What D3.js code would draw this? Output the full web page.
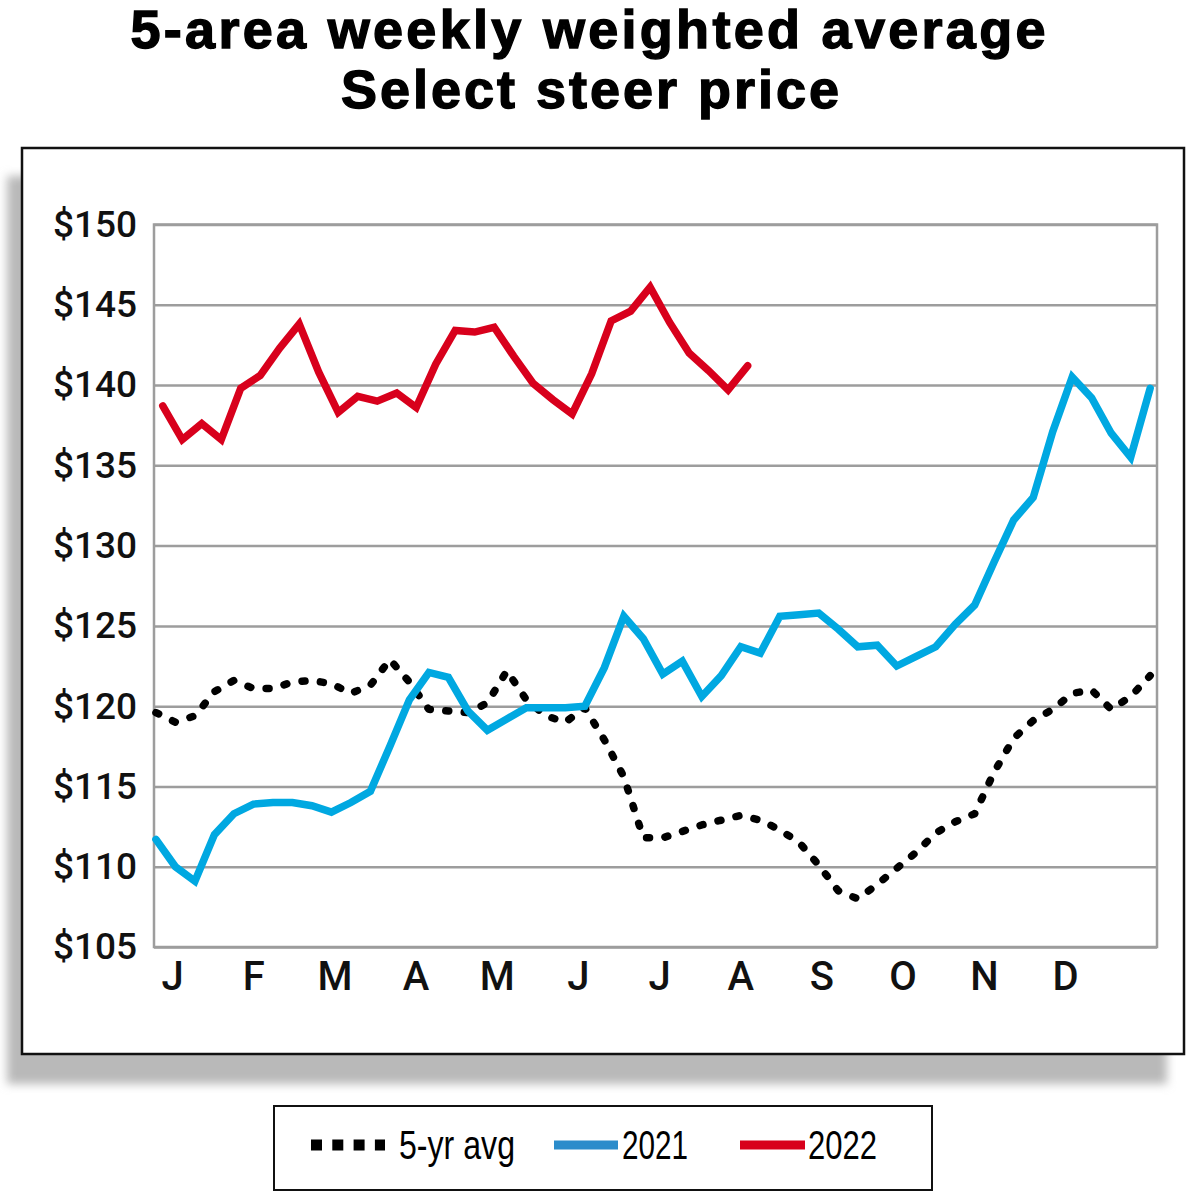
<!DOCTYPE html>
<html>
<head>
<meta charset="utf-8">
<script src="https://cdn.jsdelivr.net/npm/d3@7"></script>
<style>
  body { margin: 0; background: #fff; }
  .title { font-family: "Liberation Sans Narrow", "Arial Narrow", sans-serif; font-weight: bold; font-size: 54px; fill: #000; stroke: #000; stroke-width: 1.4px; }
  .axis text { font-family: Roboto, sans-serif; font-weight: 500; fill: #111; }
  .y-axis text { font-size: 37px; }
  .x-axis text { font-size: 40px; }
  .legend-label { font-family: "Liberation Sans Narrow", "Arial Narrow", sans-serif; font-size: 40px; fill: #000; }
</style>
</head>
<body>
<div id="chart"></div>
<script>
// Month labels along the bottom
const months = ["J", "F", "M", "A", "M", "J", "J", "A", "S", "O", "N", "D"];
// Price ticks ($/cwt)
const yTicks = [105, 110, 115, 120, 125, 130, 135, 140, 145, 150];

// Weekly values
const avg5yr = [119.6, 119.0, 119.4, 120.9, 121.6, 121.1, 121.1, 121.5, 121.6, 121.4,
                120.8, 121.3, 122.9, 121.5, 119.8, 119.7, 119.6, 120.2, 122.2, 120.4,
                119.4, 119.0, 119.9, 117.9, 115.6, 111.8, 111.8, 112.2, 112.6, 112.9,
                113.2, 112.9, 112.3, 111.5, 110.1, 108.5, 108.0, 108.9, 109.9, 110.9,
                112.1, 112.8, 113.3, 115.9, 118.0, 119.1, 119.8, 120.8, 121.0, 119.8,
                120.6, 121.9];
const price2021 = [111.7, 110.0, 109.1, 112.0, 113.3, 113.9, 114.0, 114.0, 113.8, 113.4,
                   114.0, 114.7, 117.5, 120.4, 122.1, 121.8, 119.7, 118.5, 119.2, 119.9,
                   119.9, 119.9, 120.0, 122.4, 125.6, 124.2, 122.0, 122.8, 120.6, 121.9,
                   123.7, 123.3, 125.6, 125.7, 125.8, 124.8, 123.7, 123.8, 122.5, 123.1,
                   123.7, 125.1, 126.3, 129.0, 131.6, 133.0, 137.1, 140.5, 139.2, 137.0,
                   135.5, 139.8];
const price2022 = [138.7, 136.6, 137.6, 136.6, 139.8, 140.6, 142.3, 143.8, 140.8, 138.3,
                   139.3, 139.0, 139.5, 138.6, 141.3, 143.4, 143.3, 143.6, 141.8, 140.1,
                   139.1, 138.2, 140.7, 144.0, 144.6, 146.1, 143.9, 142.0, 140.9, 139.7,
                   141.2];
// first week of each series, in weeks from the start of the axis
const seriesStart = [0, 0, 0.35];

const legendItems = ["5-yr avg", "2021", "2022"];

class SteerChart {
    constructor(_config) {
        this.config = {
            parentElement: _config.parentElement,
            containerWidth: 1200,
            containerHeight: 1197,
            plot: { left: 154, top: 224.5, right: 1157, bottom: 947 },
            gridColor: "#9d9d9d",
            colors: ["#000000", "#00a8e1", "#d8001c"],
            legendBlue: "#2b8ccb"
        };
        this.initVis();
    }

    initVis() {
        let vis = this;
        const p = vis.config.plot;
        vis.width = p.right - p.left;
        vis.height = p.bottom - p.top;

        vis.svg = d3.select(vis.config.parentElement).append("svg")
            .attr("width", vis.config.containerWidth)
            .attr("height", vis.config.containerHeight);

        // blurred shadow behind the frame
        const defs = vis.svg.append("defs");
        defs.append("filter").attr("id", "blur")
            .attr("x", "-5%").attr("y", "-5%").attr("width", "110%").attr("height", "110%")
            .append("feGaussianBlur").attr("stdDeviation", 5);

        vis.svg.append("rect")
            .attr("x", 7).attr("y", 176)
            .attr("width", 1160).attr("height", 908)
            .attr("fill", "#b9b9b9")
            .attr("filter", "url(#blur)");

        vis.svg.append("rect")
            .attr("x", 22).attr("y", 148)
            .attr("width", 1162).attr("height", 906)
            .attr("fill", "#fff")
            .attr("stroke", "#111")
            .attr("stroke-width", 2.5);

        // Title
        const title = vis.svg.append("g");
        title.append("text").attr("class", "title")
            .attr("x", 588).attr("y", 48)
            .attr("text-anchor", "middle")
            .attr("textLength", 915).attr("lengthAdjust", "spacing")
            .text("5-area weekly weighted average");
        title.append("text").attr("class", "title")
            .attr("x", 590).attr("y", 108)
            .attr("text-anchor", "middle")
            .attr("textLength", 498).attr("lengthAdjust", "spacing")
            .text("Select steer price");

        vis.chart = vis.svg.append("g")
            .attr("transform", `translate(${p.left},${p.top})`);

        vis.xScale = d3.scaleLinear().domain([-0.1, 51.35]).range([0, vis.width]);
        vis.yScale = d3.scaleLinear().domain([105, 150]).range([vis.height, 0]);
        vis.monthScale = d3.scalePoint().domain(d3.range(months.length)).range([18, vis.width - 92]);

        vis.yAxis = d3.axisLeft(vis.yScale)
            .tickValues(yTicks)
            .tickSize(-vis.width)
            .tickPadding(17)
            .tickFormat(d => `$${d}`);

        vis.xAxis = d3.axisBottom(vis.monthScale)
            .tickSize(0)
            .tickPadding(15)
            .tickFormat(i => months[i]);

        vis.renderVis();
    }

    renderVis() {
        let vis = this;

        const yAxisG = vis.chart.append("g").attr("class", "axis y-axis").call(vis.yAxis);
        yAxisG.select(".domain").remove();
        yAxisG.selectAll("line")
            .attr("stroke", vis.config.gridColor)
            .attr("stroke-width", 2.5);

        // plot border
        vis.chart.append("rect")
            .attr("width", vis.width).attr("height", vis.height)
            .attr("fill", "none")
            .attr("stroke", vis.config.gridColor)
            .attr("stroke-width", 2.5);

        const xAxisG = vis.chart.append("g").attr("class", "axis x-axis")
            .attr("transform", `translate(0,${vis.height})`)
            .call(vis.xAxis);
        xAxisG.select(".domain").remove();

        const series = [avg5yr, price2021, price2022];
        const line = (start) => d3.line()
            .x((d, i) => vis.xScale(start + i))
            .y(d => vis.yScale(d));

        vis.chart.selectAll(".series")
            .data(series)
            .join("path")
                .attr("class", "series")
                .attr("d", (d, i) => line(seriesStart[i])(d))
                .attr("fill", "none")
                .attr("stroke", (d, i) => vis.config.colors[i])
                .attr("stroke-width", (d, i) => i === 0 ? 7.5 : 7.5)
                .attr("stroke-linecap", "round")
                .attr("stroke-linejoin", (d, i) => i === 0 ? "round" : "miter")
                .attr("stroke-miterlimit", 3)
                .attr("stroke-dasharray", (d, i) => i === 0 ? "3 15.5" : null);

        // Legend
        const legend = vis.svg.append("g");
        legend.append("rect")
            .attr("x", 274).attr("y", 1106)
            .attr("width", 658).attr("height", 84)
            .attr("fill", "#fff")
            .attr("stroke", "#111")
            .attr("stroke-width", 2);

        const swatch = [
            { x1: 311, x2: 385, color: "#000", dash: "11 10.3", width: 11 },
            { x1: 554, x2: 618, color: vis.config.legendBlue, dash: null, width: 9 },
            { x1: 740, x2: 805, color: vis.config.colors[2], dash: null, width: 9 }
        ];
        const labelPos = [{ x: 399, w: 116 }, { x: 622, w: 66 }, { x: 808, w: 69 }];

        legend.selectAll(".swatch")
            .data(swatch)
            .join("line")
                .attr("class", "swatch")
                .attr("x1", d => d.x1).attr("x2", d => d.x2)
                .attr("y1", 1145).attr("y2", 1145)
                .attr("stroke", d => d.color)
                .attr("stroke-width", d => d.width)
                .attr("stroke-dasharray", d => d.dash);

        legend.selectAll(".legend-label")
            .data(legendItems)
            .join("text")
                .attr("class", "legend-label")
                .attr("x", (d, i) => labelPos[i].x)
                .attr("y", 1159)
                .attr("textLength", (d, i) => labelPos[i].w)
                .attr("lengthAdjust", "spacingAndGlyphs")
                .text(d => d);
    }
}

new SteerChart({ parentElement: "#chart" });
</script>
</body>
</html>
